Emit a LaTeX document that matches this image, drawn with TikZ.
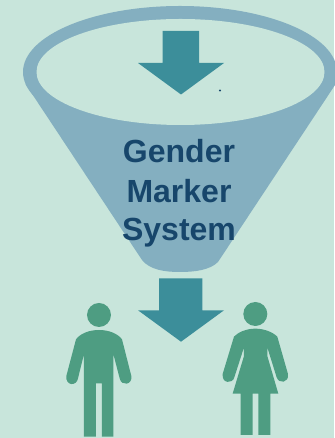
\documentclass[tikz,border=0pt]{standalone}
\usepackage{fontspec}
\setmainfont{Liberation Sans}
\definecolor{bgc}{HTML}{C8E5DB}
\definecolor{funnelc}{HTML}{84AFC0}
\definecolor{arrowc}{HTML}{3C8E9A}
\definecolor{peoplec}{HTML}{4E9D82}
\definecolor{textc}{HTML}{17466B}
\tikzset{
  label text/.style={font=\bfseries\fontsize{32}{32}\selectfont,text=textc,anchor=base,inner sep=0pt},
  zoomed/.style={shift={(50,168)},x=0.3333pt,y=-0.3333pt}
}
\begin{document}
\begin{tikzpicture}[x=1pt,y=1pt]
\useasboundingbox (0,0) rectangle (334,438);
\fill[bgc] (0,0) rectangle (334,438);
% funnel
\fill[funnelc] (180,366) ellipse [x radius=157,y radius=66];
\fill[funnelc] (25.5,354) -- (142,178) .. controls (150,168) and (165,166) .. (180,166) .. controls (195,166) and (210,168) .. (218,176) -- (337,356) -- cycle;
\fill[bgc] (180.5,366) ellipse [x radius=144,y radius=53];
% arrows
\fill[arrowc] (162.5,407) -- (199,407) -- (199,375) -- (224,375) -- (181,343.5) -- (138,375) -- (162.5,375) -- cycle;
\fill[arrowc] (159,159.5) -- (202.3,159.5) -- (202.3,127.7) -- (224,127.7) -- (181,96.3) -- (138,127.7) -- (159,127.7) -- cycle;
\fill[textc] (220,347.5) circle (1.2);
% text
\node[label text] (gender) at (179,275) {Gender};
\node[label text] (marker) at (179,235.3) {Marker};
\node[label text] (system) at (179,197.3) {System};
% people
\begin{scope}[zoomed]
\fill[peoplec] (147,135) circle [radius=36];
\fill[peoplec] (147,180) .. controls (115,180) and (90,192) .. (78,208)
  -- (49,318) .. controls (46,348) and (80,350) .. (84,325)
  -- (102,252) -- (102,500) -- (138,500) -- (138,340) -- (156,340) -- (156,500) -- (190,500) -- (190,252)
  -- (209,325) .. controls (214,350) and (248,345) .. (244,318)
  -- (216,208) .. controls (204,192) and (179,180) .. (147,180) -- cycle;
\fill[peoplec] (616,132) circle [radius=36];
\fill[peoplec] (616,176) .. controls (590,176) and (565,186) .. (552,200)
  -- (518,312) .. controls (515,342) and (548,342) .. (553,322)
  -- (582,232) -- (582,258) -- (548,371) -- (572,371) -- (572,495) -- (608,495) -- (608,371)
  -- (625,371) -- (625,495) -- (661,495) -- (661,371) -- (685,371) -- (652,258) -- (652,232)
  -- (680,322) .. controls (686,342) and (718,340) .. (714,312)
  -- (682,200) .. controls (668,186) and (642,176) .. (616,176) -- cycle;
\end{scope}
\end{tikzpicture}
\end{document}
